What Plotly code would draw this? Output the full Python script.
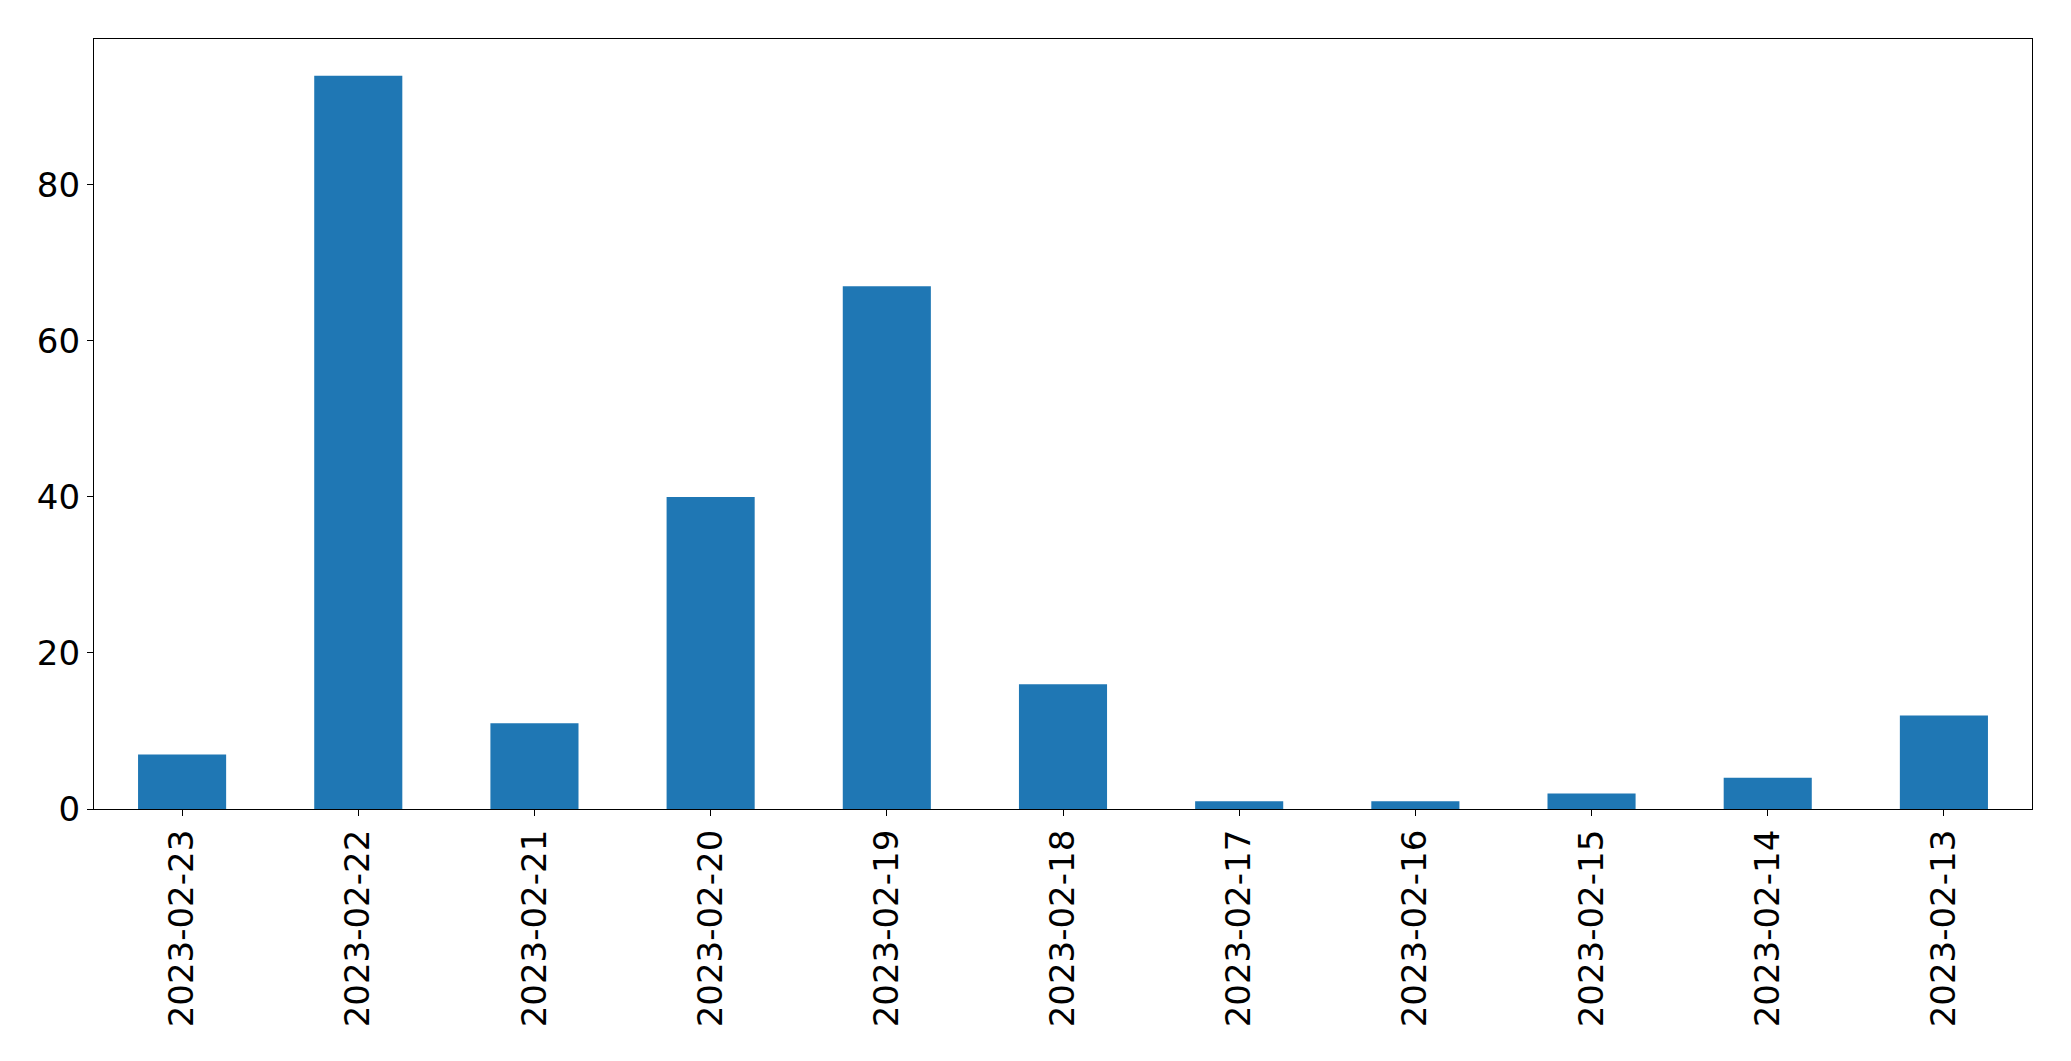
import plotly.graph_objects as go

dates = ["2023-02-23", "2023-02-22", "2023-02-21", "2023-02-20", "2023-02-19",
         "2023-02-18", "2023-02-17", "2023-02-16", "2023-02-15", "2023-02-14",
         "2023-02-13"]
counts = [7, 94, 11, 40, 67, 16, 1, 1, 2, 4, 12]
y_ticks = [0, 20, 40, 60, 80]

fig = go.Figure(go.Bar(x=dates, y=counts, marker_color="#1f77b4",
                       marker_line_width=0, width=0.5))

font = dict(family="DejaVu Sans", size=34, color="black")
fig.update_layout(
    width=2055, height=1045,
    margin=dict(l=86, r=31, t=31, b=244),
    paper_bgcolor="white", plot_bgcolor="white",
    font=font, showlegend=False,
)
fig.update_xaxes(
    type="category", range=[-0.5, 10.5], tickangle=-90,
    showline=True, mirror=True, linecolor="black", linewidth=1.3,
    ticks="outside", ticklen=6, tickwidth=1.3, tickcolor="black",
    showgrid=False, tickfont=font,
)
fig.update_yaxes(
    range=[0, 98.7], tickvals=y_ticks,
    showline=True, mirror=True, linecolor="black", linewidth=1.3,
    ticks="outside", ticklen=6, tickwidth=1.3, tickcolor="black",
    showgrid=False, zeroline=False, tickfont=font,
)
fig.write_html("out.html")
